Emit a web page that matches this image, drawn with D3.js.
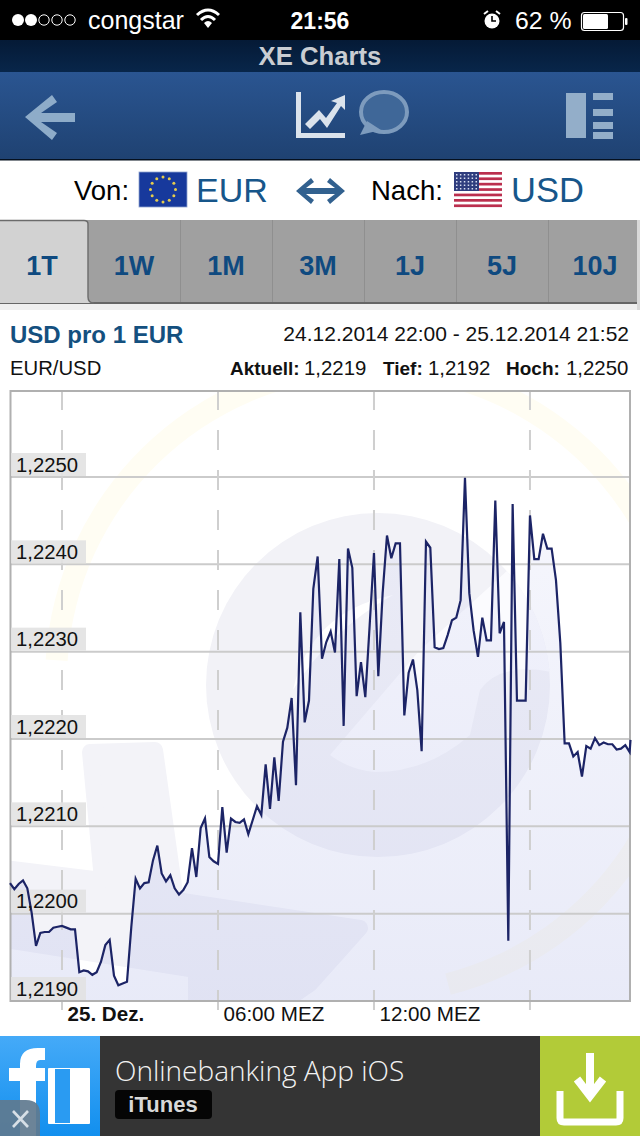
<!DOCTYPE html>
<html>
<head>
<meta charset="utf-8">
<script src="https://cdn.jsdelivr.net/npm/d3@7"></script>
<style>
  html, body { margin: 0; padding: 0; background: #fff; }
  svg { display: block; }
  text { font-family: "Liberation Sans", Arial, sans-serif; }
  .rate-axis path, .rate-axis line, .time-axis path { display: none; }
</style>
</head>
<body>
<svg id="chart" width="640" height="1136"></svg>
<script>
// EUR/USD, one value every 10 minutes from 24.12. 22:00, last one at 21:52
const rates = [
  1.22035, 1.22028, 1.22034, 1.22038, 1.22029, 1.22001, 1.21963, 1.21978, 1.21979, 1.21979,
  1.21984, 1.21985, 1.21986, 1.21984, 1.21982, 1.21982, 1.21933, 1.21935, 1.21934, 1.21930,
  1.21933, 1.21945, 1.21964, 1.21970, 1.21929, 1.21918, 1.21920, 1.21922, 1.21985, 1.22040,
  1.22029, 1.22035, 1.22036, 1.22061, 1.22078, 1.22046, 1.22037, 1.22044, 1.22029, 1.22022,
  1.22027, 1.22036, 1.22075, 1.22042, 1.22098, 1.22109, 1.22065, 1.22060, 1.22057, 1.22122,
  1.22070, 1.22109, 1.22105, 1.22104, 1.22108, 1.22091, 1.22107, 1.22123, 1.22113, 1.22171,
  1.22120, 1.22179, 1.22129, 1.22197, 1.22213, 1.22247, 1.22147, 1.22345, 1.22219, 1.22244,
  1.22372, 1.22409, 1.22292, 1.22311, 1.22323, 1.22299, 1.22406, 1.22215, 1.22418, 1.22396,
  1.22249, 1.22288, 1.22248, 1.22330, 1.22413, 1.22272, 1.22367, 1.22433, 1.22407, 1.22424,
  1.22424, 1.22227, 1.22276, 1.22291, 1.22256, 1.22186, 1.22426, 1.22419, 1.22305, 1.22303,
  1.22304, 1.22319, 1.22336, 1.22339, 1.22359, 1.22499, 1.22367, 1.22324, 1.22294, 1.22339,
  1.22313, 1.22313, 1.22473, 1.22321, 1.22334, 1.21969, 1.22469, 1.22244, 1.22244, 1.22244,
  1.22456, 1.22406, 1.22406, 1.22435, 1.22418, 1.22418, 1.22382, 1.22310, 1.22195, 1.22195,
  1.22180, 1.22185, 1.22157, 1.22192, 1.22189, 1.22201, 1.22193, 1.22196, 1.22194, 1.22194,
  1.22188, 1.22189, 1.22193, 1.22185, 1.22199
];
const rateTicks = [1.2190, 1.2200, 1.2210, 1.2220, 1.2230, 1.2240, 1.2250];
const startTime = new Date(2014, 11, 24, 22, 0);
const endTime = new Date(2014, 11, 25, 21, 52);
const timeTicks = [
  new Date(2014, 11, 25, 0, 0), new Date(2014, 11, 25, 6, 0),
  new Date(2014, 11, 25, 12, 0), new Date(2014, 11, 25, 18, 0)
];
const timeLabels = ['25. Dez.', '06:00 MEZ', '12:00 MEZ', ''];
const tabs = ['1T', '1W', '1M', '3M', '1J', '5J', '10J'];
const stats = [['Aktuell:', '1,2219', 230, 304], ['Tief:', '1,2192', 383, 428], ['Hoch:', '1,2250', 506, 566]];

const series = rates.map((rate, i) => ({
  time: i === rates.length - 1 ? endTime : d3.timeMinute.offset(startTime, i * 10),
  rate
}));

const svg = d3.select('#chart');
const defs = svg.append('defs');

const gradient = (id, x1, y1, x2, y2, stops, units) => {
  const g = defs.append('linearGradient').attr('id', id)
    .attr('x1', x1).attr('y1', y1).attr('x2', x2).attr('y2', y2);
  if (units) g.attr('gradientUnits', units);
  stops.forEach(s => g.append('stop').attr('offset', s[0]).attr('stop-color', s[1]).attr('stop-opacity', s[2] === undefined ? 1 : s[2]));
};
gradient('headBg', 0, 0, 0, 1, [[0, '#2a5591'], [1, '#1f4272']]);
gradient('titleBg', 0, 0, 0, 1, [[0, '#051a36'], [1, '#08264a']]);
gradient('adBlue', 0, 0, 0, 1, [[0, '#45aaf8'], [1, '#128fee']]);
gradient('areaFill', 0, 477, 0, 1001, [[0, '#c8ccf0', 0.16], [1, '#bcc2ea', 0.34]], 'userSpaceOnUse');

const rect = (x, y, w, h, fill, rx) => svg.append('rect')
  .attr('x', x).attr('y', y).attr('width', w).attr('height', h).attr('fill', fill).attr('rx', rx || 0);
const label = (x, y, str, size, fill, weight, anchor) => svg.append('text')
  .attr('x', x).attr('y', y).attr('font-size', size).attr('fill', fill)
  .attr('font-weight', weight || 'normal').attr('text-anchor', anchor || 'start').text(str);
const shape = (d, fill, stroke, width) => svg.append('path').attr('d', d)
  .attr('fill', fill || 'none').attr('stroke', stroke || 'none').attr('stroke-width', width || 0);

// --- status bar
rect(0, 0, 640, 40, '#000');
[18, 31, 44, 57, 70].forEach((cx, i) => svg.append('circle').attr('cx', cx).attr('cy', 20).attr('r', i < 2 ? 6 : 5.2)
  .attr('fill', i < 2 ? '#fff' : 'none').attr('stroke', '#fff').attr('stroke-width', i < 2 ? 0 : 1));
label(88, 29, 'congstar', 25, '#fff');
shape('M197 15 Q208 5 219 15', 'none', '#fff', 3);
shape('M201 20 Q208 13 215 20', 'none', '#fff', 3);
shape('M204 23 L208 28 L212 23 Q208 19 204 23Z', '#fff');
label(320, 29, '21:56', 23, '#fff', 'bold', 'middle');
svg.append('circle').attr('cx', 492).attr('cy', 21).attr('r', 7.5).attr('fill', '#fff');
shape('M492 16 V21 H496', 'none', '#000', 1.6);
shape('M484 14 L488 11 M500 14 L496 11', 'none', '#fff', 2);
label(515, 29, '62 %', 24.8, '#fff');
rect(581.5, 12.5, 42, 18, 'none', 3).attr('stroke', '#fff').attr('stroke-width', 1.2);
rect(583, 14, 25, 15, '#fff', 1.5);
rect(625, 18, 2.5, 7, '#fff', 1);

// --- title and toolbar
rect(0, 40, 640, 32, 'url(#titleBg)');
label(320, 65, 'XE Charts', 25.7, '#c9cdd2', 'bold', 'middle');
rect(0, 72, 640, 87, 'url(#headBg)');
rect(0, 159, 640, 1.5, '#05101f');
shape('M25 117 L52 95 L57 102 L41 113 H75 V122 H41 L57 133 L52 140Z', '#8eacc9');
shape('M296 92 H301 V133 H345 V138 H296Z', '#dbe3ec');
shape('M305 124 L319 110 L326 118 L337 103 L331 101 L345 95 L345 110 L341 106 L327 128 L320 119 L310 129Z', '#dbe3ec');
svg.append('ellipse').attr('cx', 384).attr('cy', 112).attr('rx', 23).attr('ry', 20)
  .attr('fill', '#3f6798').attr('stroke', '#7d9bbd').attr('stroke-width', 4);
shape('M367 121 L360 135 L381 130Z', '#7d9bbd');
rect(566, 93, 20, 45, '#93aec9');
[93, 109, 122, 132].forEach(y => rect(593, y, 20, 7, '#93aec9'));

// --- currency row
label(74, 200, 'Von:', 27.5, '#000');
rect(139, 172, 48, 35, '#17399c').attr('stroke', '#8fa3cf').attr('stroke-width', 0.8);
d3.range(12).forEach(i => {
  const a = i * Math.PI / 6;
  svg.append('circle').attr('cx', 163 + 12.5 * Math.cos(a)).attr('cy', 189.5 + 12.5 * Math.sin(a))
    .attr('r', 1.5).attr('fill', '#e6cc4d');
});
label(196, 202, 'EUR', 34, '#17568a');
shape('M296 191 L311 178 L314 182 L306 188 H335 L327 182 L330 178 L345 191 L330 204 L327 200 L335 194 H306 L314 200 L311 204Z', '#32618f');
label(371, 200, 'Nach:', 27.5, '#000');
rect(454, 172, 48, 35, '#fff');
d3.range(7).forEach(i => rect(454, 172 + i * 5.4, 48, 2.7, '#bb2f4e'));
rect(454, 172, 25, 19, '#2f3d7e');
d3.range(5).forEach(r => d3.range(6).forEach(c => rect(456 + c * 3.9, 174 + r * 3.5, 1.5, 1.5, '#d8def0')));
label(511, 202, 'USD', 34.5, '#17568a');

// --- range tabs
rect(0, 220, 640, 84, '#a0a0a0');
rect(0, 302, 640, 2, '#666');
rect(0, 304, 640, 6, '#efefef');
rect(637, 220, 3, 90, '#d9d9d9');
[180, 272, 364, 456, 548].forEach(x => rect(x, 220, 1, 82, '#8f8f8f'));
shape('M0 220 H84 Q88 220 88 224 V297 Q88 303 94 303 H0Z', '#d2d2d2');
shape('M0 220.5 H84 Q88 220.5 88 224 V297 Q88 303 94 303', 'none', '#6b6b6b', 1.4);
tabs.forEach((t, i) => label(42 + i * 92 + (i === 6 ? 1 : 0), 275, t, 27, '#0f4a80', 'bold', 'middle'));

// --- chart heading
label(10, 343, 'USD pro 1 EUR', 24, '#14507f', 'bold');
label(629, 341, '24.12.2014 22:00 - 25.12.2014 21:52', 21, '#111', 'normal', 'end');
label(10, 375, 'EUR/USD', 20.3, '#111');
stats.forEach(s => {
  label(s[2], 375, s[0], 19, '#111', 'bold');
  label(s[3], 375, s[1], 20.4, '#111');
});

// --- scales
const x = d3.scaleTime().domain([startTime, endTime]).range([10, 630.5]);
const y = d3.scaleLinear().domain([1.2190, 1.2250]).range([1001, 477]);
const plot = { left: 11, right: 630, top: 391, bottom: 1001 };
const comma = d3.formatLocale({ decimal: ',', thousands: '.', grouping: [3], currency: ['', ' €'] }).format('.4f');

defs.append('clipPath').attr('id', 'plotClip').append('rect')
  .attr('x', plot.left).attr('y', plot.top).attr('width', plot.right - plot.left).attr('height', plot.bottom - plot.top);
defs.append('clipPath').attr('id', 'logoClip').append('circle')
  .attr('cx', 378).attr('cy', 685).attr('r', 172);

// --- watermark logo, behind the data
const mark = svg.append('g').attr('clip-path', 'url(#plotClip)');
mark.append('path')
  .attr('d', d3.arc().innerRadius(303).outerRadius(325).startAngle(-Math.PI * 0.48).endAngle(Math.PI * 0.92)())
  .attr('transform', 'translate(370,680)').attr('fill', '#fffdf3');
mark.append('circle').attr('cx', 378).attr('cy', 685).attr('r', 172).attr('fill', '#f2f2f7');
const logoInner = mark.append('g').attr('clip-path', 'url(#logoClip)');
logoInner.append('path').attr('d', 'M330 755 L420 650 L508 570 L560 575 L552 672 Q500 662 480 690 L470 735 Q428 772 375 772 Q350 770 330 755Z').attr('fill', '#fbfbfe');
logoInner.append('path').attr('d', 'M393 595 Q310 612 293 690 Q330 630 393 595Z').attr('fill', '#fff');
mark.append('path')
  .attr('d', 'M90 752 L155 750 L176 900 L360 928 L310 984 L285 1001 L196 1001 L196 970 L5 940 L5 868 L102 880Z')
  .attr('fill', '#f3f3f8').attr('stroke', '#f3f3f8').attr('stroke-width', 16).attr('stroke-linejoin', 'round');

// --- area under the line
svg.append('path').datum(series)
  .attr('clip-path', 'url(#plotClip)')
  .attr('fill', 'url(#areaFill)')
  .attr('d', d3.area().x(d => x(d.time)).y0(plot.bottom).y1(d => y(d.rate)));

// --- plot frame and grid
svg.append('g').selectAll('line').data(rateTicks).join('line')
  .attr('x1', plot.left).attr('x2', plot.right)
  .attr('y1', d => y(d)).attr('y2', d => y(d))
  .attr('stroke', '#cbcbcb').attr('stroke-width', 2);
svg.append('g').selectAll('line').data(timeTicks).join('line')
  .attr('x1', d => x(d)).attr('x2', d => x(d))
  .attr('y1', 390).attr('y2', 1010)
  .attr('stroke', '#cfcfcf').attr('stroke-width', 2).attr('stroke-dasharray', '20 20');
svg.append('rect')
  .attr('x', plot.left - 0.5).attr('y', plot.top)
  .attr('width', plot.right - plot.left + 0.5).attr('height', plot.bottom - plot.top)
  .attr('fill', 'none').attr('stroke', '#b0b0b0').attr('stroke-width', 2);

// boxes behind the rate labels
svg.append('g').selectAll('rect').data(rateTicks).join('rect')
  .attr('x', 11).attr('y', d => y(d) - 24)
  .attr('width', 75).attr('height', 23)
  .attr('fill', '#e2e2e2').attr('fill-opacity', 0.9);

// --- rate line
svg.append('path').datum(series)
  .attr('fill', 'none')
  .attr('stroke', '#1c2466').attr('stroke-width', 2.2).attr('stroke-linejoin', 'miter')
  .attr('d', d3.line().x(d => x(d.time)).y(d => y(d.rate)));

// --- axes
const rateAxis = svg.append('g').attr('class', 'rate-axis')
  .attr('transform', 'translate(11,0)')
  .call(d3.axisRight(y).tickValues(rateTicks).tickFormat(comma).tickSize(0));
rateAxis.selectAll('text')
  .attr('x', 5).attr('dy', 0).attr('y', -6)
  .attr('font-size', 20.3).attr('fill', '#111')
  .style('font-family', '"Liberation Sans", Arial, sans-serif');

const timeAxis = svg.append('g').attr('class', 'time-axis')
  .attr('transform', `translate(0,${plot.bottom})`)
  .call(d3.axisBottom(x).tickValues(timeTicks).tickFormat((d, i) => timeLabels[i]).tickSize(0));
timeAxis.selectAll('text')
  .attr('x', 5).attr('y', 20).attr('dy', 0)
  .attr('text-anchor', 'start')
  .attr('font-size', 20.6).attr('fill', '#111')
  .attr('font-weight', (d, i) => i === 0 ? 'bold' : 'normal')
  .style('font-family', '"Liberation Sans", Arial, sans-serif');

// --- ad banner
rect(0, 1036, 100, 100, 'url(#adBlue)');
rect(100, 1036, 440, 100, '#343434');
rect(540, 1036, 100, 100, '#b2cb38');
shape('M20 1136 V1081 H9 V1068 H20 V1064 Q20 1048 38 1048 H45 V1060 H40 Q36 1060 36 1066 V1068 H45 V1081 H36 V1136Z', '#fff');
rect(48, 1068, 42, 56, '#fff', 1);
rect(55, 1069, 15, 54, '#2a9bf2');
label(115, 1081, 'Onlinebanking App iOS', 28, '#f2f2f2').style('font-family', '"Open Sans"').attr('font-weight', 300);
rect(115, 1090, 97, 29, '#050505', 4);
label(163, 1112, 'iTunes', 22, '#d8d8d8', 'bold', 'middle');
shape('M590 1053 V1090 M577 1079 L590 1096 L603 1079', 'none', '#fff', 8);
shape('M560 1091 V1118 Q560 1122 564 1122 H616 Q620 1122 620 1118 V1091', 'none', '#fff', 7);
shape('M0 1100 H26 Q40 1100 40 1114 V1136 H0Z', '#607a8f').attr('fill-opacity', 0.92);
shape('M13 1111 L28 1127 M28 1111 L13 1127', 'none', '#d7dfe6', 2.6);
</script>
</body>
</html>
